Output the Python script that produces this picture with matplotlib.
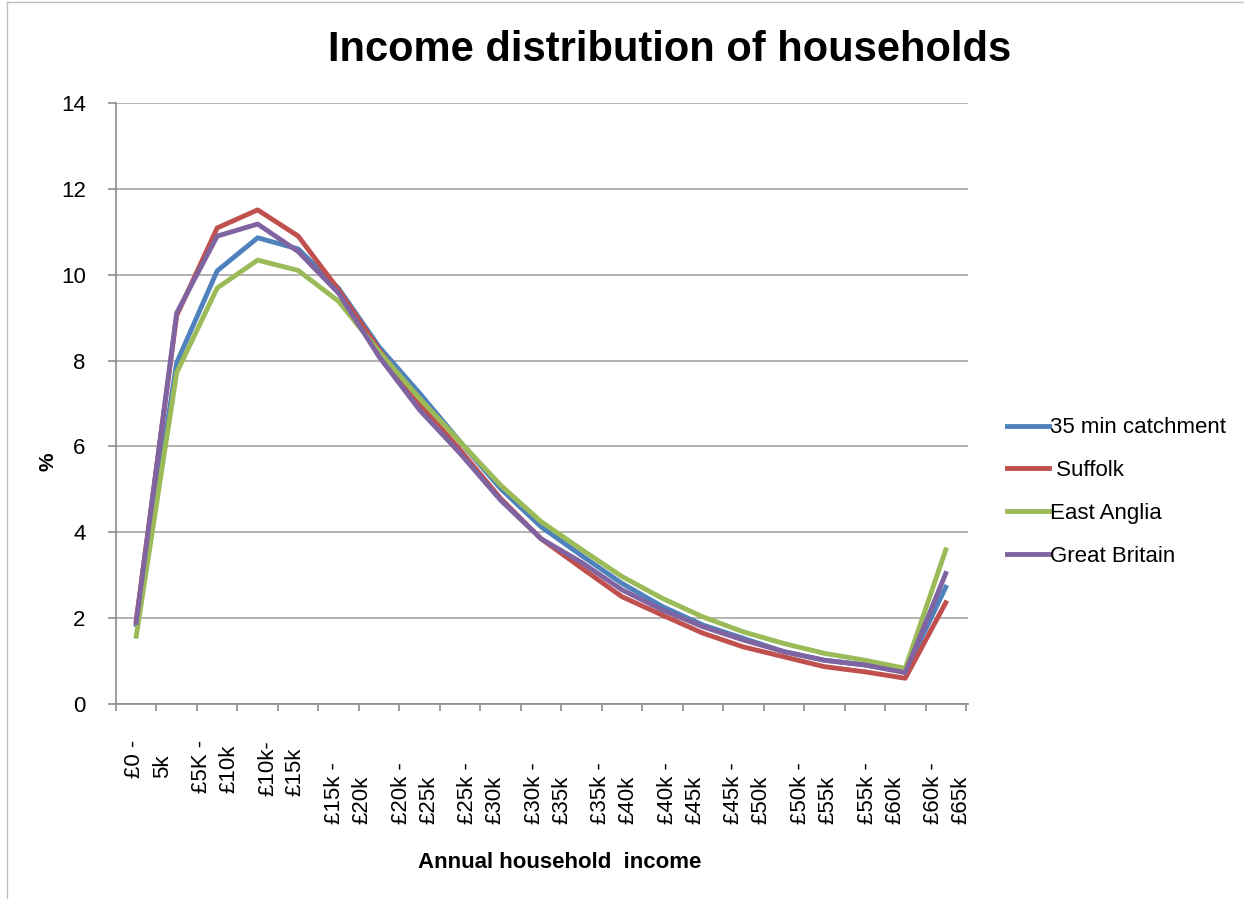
import numpy as np
import matplotlib
matplotlib.use("Agg")
import matplotlib.pyplot as plt
from matplotlib.lines import Line2D

plt.rcParams["font.family"] = ["Liberation Sans", "DejaVu Sans"]

# --- data: share of households (%) per £5k income band ---
band_labels = [
    "£0 -\n5k", "£5K -\n£10k", "£10k-\n£15k", "£15k -\n£20k", "£20k -\n£25k",
    "£25k -\n£30k", "£30k -\n£35k", "£35k -\n£40k", "£40k -\n£45k",
    "£45k -\n£50k", "£50k -\n£55k", "£55k -\n£60k", "£60k -\n£65k",
]

catchment_35 = [1.85, 7.95, 10.09, 10.86, 10.60, 9.68, 8.32, 7.24, 6.11, 5.02, 4.13,
                3.46, 2.81, 2.27, 1.84, 1.53, 1.22, 1.02, 0.91, 0.75, 2.72]
suffolk = [1.95, 9.05, 11.09, 11.51, 10.90, 9.65, 8.25, 7.00, 5.92, 4.79, 3.85,
           3.17, 2.50, 2.07, 1.65, 1.33, 1.10, 0.87, 0.75, 0.60, 2.36]
east_anglia = [1.58, 7.72, 9.69, 10.34, 10.10, 9.38, 8.21, 7.12, 6.11, 5.10, 4.25,
               3.60, 2.97, 2.46, 2.03, 1.68, 1.41, 1.18, 1.02, 0.83, 3.59]
great_britain = [1.90, 9.11, 10.90, 11.18, 10.54, 9.57, 8.09, 6.85, 5.84, 4.75, 3.85,
                 3.30, 2.66, 2.19, 1.80, 1.49, 1.22, 1.02, 0.91, 0.73, 3.04]

series = [catchment_35, suffolk, east_anglia, great_britain]
series_names = ["35 min catchment", " Suffolk", "East Anglia", "Great Britain"]
colors = ["#4F81BD", "#C0504D", "#9BBB59", "#8064A2"]

W, H = 1244, 899
fig = plt.figure(figsize=(W / 100, H / 100), dpi=100)
ax = fig.add_axes([116 / W, 1 - 704 / H, (968 - 116) / W, (704 - 103) / H])

x = np.arange(len(catchment_35))
for vals, name, col in zip(series, series_names, colors):
    ax.plot(x, vals, color=col, lw=3.5, label=name)

ax.set_xlim(-0.5, len(x) - 0.45)
ax.set_ylim(0, 14)
ax.set_yticks(np.arange(0, 15, 2))
ax.tick_params(axis="y", labelsize=16, length=5.8, width=1.2, color="#8c8c8c", pad=16)
ax.grid(axis="y", color="#a6a6a6", lw=1.2)
ax.set_axisbelow(True)

# category boundary ticks, labels drawn separately below
ax.set_xticks([])
ax.set_xticks(np.arange(-0.5, len(x)), minor=True)
ax.tick_params(axis="x", which="minor", length=5, width=1.2, color="#8c8c8c")

for side in ["top", "right"]:
    ax.spines[side].set_visible(False)
for side in ["left", "bottom"]:
    ax.spines[side].set_color("#8c8c8c")
    ax.spines[side].set_linewidth(1.2)

label_pos = 0.3 + 1.645 * np.arange(len(band_labels))
for i, (pos, lab) in enumerate(zip(label_pos, band_labels)):
    off = 26 if i < 3 else 42
    ax.annotate(lab, xy=(pos, 0), xycoords=("data", "axes fraction"),
                xytext=(0, -off), textcoords="offset points",
                rotation=90, ha="center", va="top", multialignment="left",
                fontsize=16, linespacing=1.4)

fig.text(670 / W, 1 - 50 / H, "Income distribution of households",
         fontsize=30, fontweight="bold", ha="center", va="center")
fig.text(560 / W, 1 - 862 / H, "Annual household  income",
         fontsize=16, fontweight="bold", ha="center", va="center")
fig.text(48 / W, 1 - 462 / H, "%", fontsize=15, fontweight="bold",
         rotation=90, ha="center", va="center")

handles = [Line2D([], [], color=c, lw=3.5) for c in colors]
fig.legend(handles, series_names, loc="center left",
           bbox_to_anchor=(1007 / W, 1 - 492 / H), bbox_transform=fig.transFigure,
           frameon=False, fontsize=16, handlelength=1.9, handletextpad=0.05,
           labelspacing=0.98, borderpad=0, borderaxespad=0)

# chart area border
fig.add_artist(Line2D([7 / W, 7 / W], [0, 1 - 2 / H], color="#bfbfbf", lw=1))
fig.add_artist(Line2D([7 / W, 1], [1 - 2 / H, 1 - 2 / H], color="#bfbfbf", lw=1))

fig.savefig("out.png", dpi=100)
